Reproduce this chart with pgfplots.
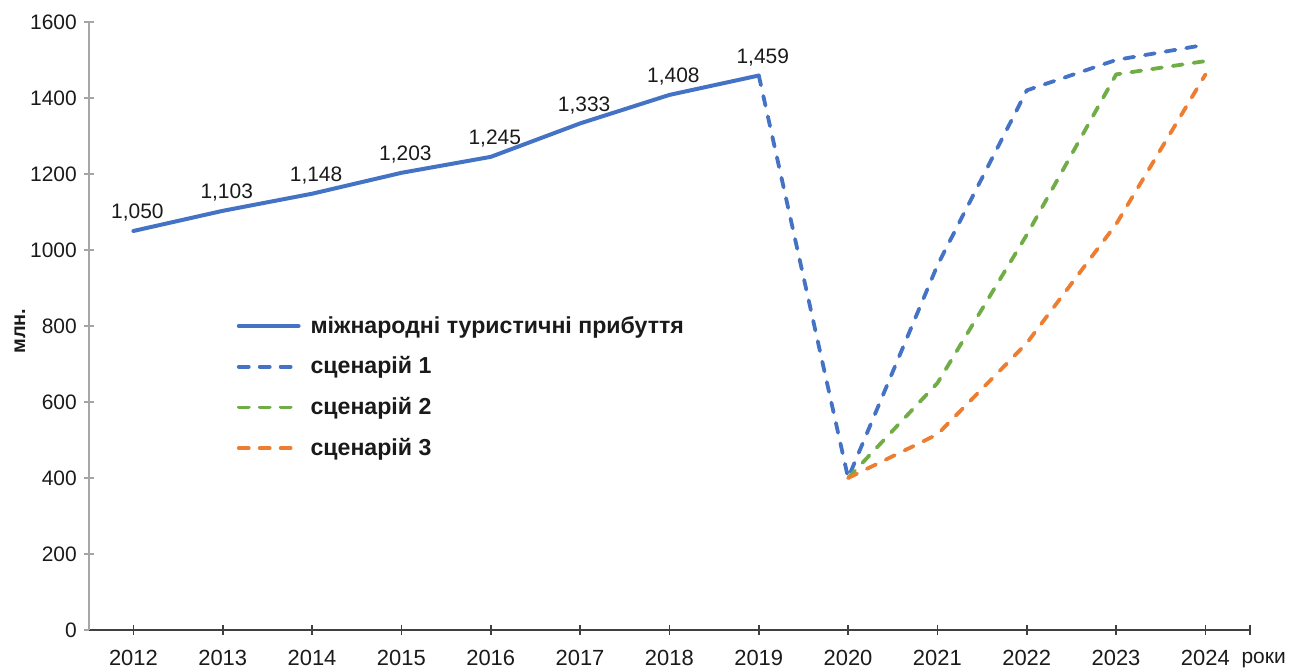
\documentclass[border=0pt]{standalone}
\usepackage{fontspec}
\setmainfont{Liberation Sans}
\usepackage{pgfplots}
\pgfplotsset{compat=1.18}
\definecolor{cBlue}{HTML}{4472C4}
\definecolor{cGreen}{HTML}{70AD47}
\definecolor{cOrange}{HTML}{ED7D31}
\definecolor{axGray}{HTML}{A6A6A6}
\definecolor{axDark}{HTML}{404040}
\definecolor{txt}{HTML}{1A1A1A}

\begin{document}
\begin{tikzpicture}
\begin{axis}[
  scale only axis, width=582.5pt, height=305pt,
  xmin=2011.5, xmax=2024.5, ymin=0, ymax=1600,
  axis lines*=left,
  x axis line style={draw=axDark, line width=0.8pt},
  y axis line style={draw=axGray, line width=0.8pt},
  xtick={2012,...,2024},
  extra x ticks={2024.5}, extra x tick labels={},
  ytick={0,200,...,1600},
  tick align=center, major tick length=5pt,
  x tick style={draw=axDark, line width=0.8pt},
  y tick style={draw=axGray, line width=0.8pt},
  /pgf/number format/assume math mode=true,
  /pgf/number format/1000 sep={},
  tick label style={font=\fontsize{10.5}{12}\selectfont, text=txt},
  xticklabel style={font=\fontsize{11}{12}\selectfont, inner sep=0pt, yshift=-7.3pt},
  clip=false,
  legend cell align=left,
  legend image code/.code={\draw[#1] (0pt,0pt) -- (30pt,0pt);},
  legend style={
    at={(rel axis cs:0.122,0.53)}, anchor=north west,
    draw=none, fill=none,
    font=\bfseries\fontsize{11.6}{13}\selectfont, text=txt,
    row sep=6.3pt,
    /tikz/every odd column/.append style={column sep=3pt},
  },
  scenario/.style={line width=1.9pt, line cap=round, line join=round,
    dash pattern=on 5pt off 5.5pt},
]
% international tourist arrivals, with values written above the points
\addplot[cBlue, line width=2pt, line join=round, line cap=round,
  point meta=y,
  nodes near coords={\pgfmathprintnumber[1000 sep={,}]{\pgfplotspointmeta}},
  nodes near coords style={font=\fontsize{10.5}{12}\selectfont, text=txt,
    anchor=south, xshift=2pt, yshift=0.5pt}]
  coordinates {(2012,1050) (2013,1103) (2014,1148) (2015,1203)
               (2016,1245) (2017,1333) (2018,1408) (2019,1459)};
\addlegendentry{міжнародні туристичні прибуття}

% scenario 1
\addplot[cBlue, scenario]
  coordinates {(2019,1459) (2020,400) (2021,960) (2022,1420) (2023,1500) (2024,1540)};
\addlegendentry{сценарій 1}

% scenario 2
\addplot[cGreen, scenario]
  coordinates {(2020,400) (2021,650) (2022,1040) (2023,1462) (2024,1497)};
\addlegendentry{сценарій 2}

% scenario 3
\addplot[cOrange, scenario]
  coordinates {(2020,400) (2021,515) (2022,755) (2023,1068) (2024,1462)};
\addlegendentry{сценарій 3}
\end{axis}

\node[rotate=90, font=\bfseries\fontsize{10}{12}\selectfont, text=txt]
  at (-34.5pt,150pt) {млн.};
\node[anchor=base, inner sep=0pt, font=\fontsize{10.5}{12}\selectfont, text=txt]
  at (589.25pt,-16.8pt) {роки};

\pgfresetboundingbox
\useasboundingbox (-44.5pt,-19pt) rectangle (607.5pt,316pt);
\end{tikzpicture}
\end{document}
